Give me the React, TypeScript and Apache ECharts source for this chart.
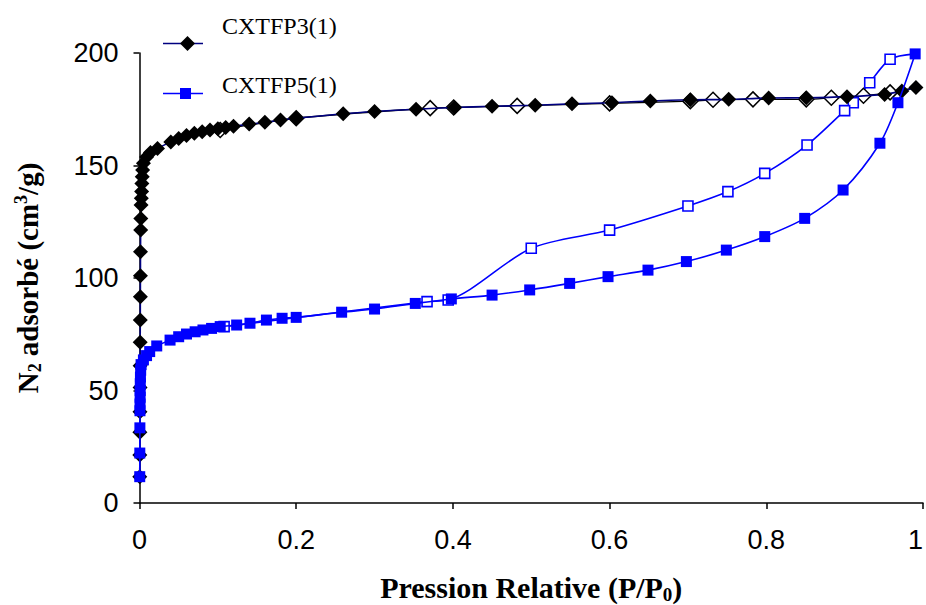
import React, { useEffect, useRef } from "react";
import * as echarts from "echarts";

// CXTFP3(1) adsorption (filled diamonds): [P/P0, volume]
const cx3Ads: number[][] = [
  [0.0003, 11.7], [0.0004, 21.3], [0.0005, 31.5], [0.0006, 40.6], [0.0007, 51.3], [0.0008, 61], [0.0009, 71.5],
  [0.001, 81.3], [0.0011, 91.7], [0.0012, 101], [0.0013, 111.7], [0.0015, 121.3], [0.0017, 126.5], [0.002, 132.4],
  [0.0023, 135.5], [0.0027, 138.4], [0.003, 142], [0.0035, 145], [0.004, 148], [0.005, 151], [0.009, 153.8],
  [0.014, 155.8], [0.023, 157.6], [0.04, 160.5], [0.05, 162], [0.06, 163.3], [0.07, 164.3], [0.08, 165],
  [0.09, 165.8], [0.1, 166.3], [0.11, 166.9], [0.12, 167.4], [0.14, 168.4], [0.16, 169.2], [0.18, 170.2],
  [0.2, 171], [0.26, 173], [0.3, 174], [0.353, 175], [0.402, 175.8], [0.45, 176.3], [0.505, 176.8],
  [0.552, 177.4], [0.603, 177.9], [0.652, 178.7], [0.703, 179.2], [0.752, 179.4], [0.803, 180], [0.851, 180.1],
  [0.903, 180.6], [0.951, 181.6], [0.973, 183.1], [0.991, 184.7],
];
// CXTFP3(1) desorption (open diamonds)
const cx3Des: number[][] = [
  [0.991, 184.7], [0.958, 182.5], [0.924, 181], [0.883, 180.1], [0.851, 179.4], [0.783, 179.4], [0.732, 179.2],
  [0.703, 178.6], [0.6, 177.6], [0.482, 176.5], [0.401, 175.8], [0.371, 175.5], [0.2, 171], [0.103, 165.8],
];
// CXTFP5(1) adsorption (filled squares)
const cx5Ads: number[][] = [
  [0.0003, 11.7], [0.0004, 22.2], [0.0005, 33.4], [0.0006, 41], [0.0007, 44], [0.0008, 47], [0.0009, 50],
  [0.001, 53], [0.0012, 56], [0.0015, 59], [0.002, 61.5], [0.005, 63.6], [0.009, 65.5], [0.013, 67.3],
  [0.022, 69.8], [0.039, 72.4], [0.05, 73.9], [0.06, 75.1], [0.071, 76.1], [0.081, 76.9], [0.092, 77.6],
  [0.103, 78.4], [0.124, 79.1], [0.141, 79.9], [0.162, 81.3], [0.182, 82.1], [0.2, 82.5], [0.258, 84.8],
  [0.3, 86.2], [0.352, 88.7], [0.398, 90.7], [0.45, 92.4], [0.498, 94.7], [0.549, 97.6], [0.598, 100.6],
  [0.649, 103.5], [0.698, 107.3], [0.749, 112.4], [0.798, 118.4], [0.849, 126.5], [0.898, 139.1],
  [0.945, 159.9], [0.968, 177.9], [0.99, 199.6],
];
// CXTFP5(1) desorption (open squares)
const cx5Des: number[][] = [
  [0.99, 199.6], [0.958, 197.2], [0.932, 186.8], [0.911, 177.9], [0.9, 174.4], [0.852, 159.1], [0.798, 146.5],
  [0.751, 138.4], [0.7, 132], [0.6, 121.3], [0.5, 113.2], [0.394, 90.2], [0.367, 89.5], [0.108, 78.4],
];

const legendNames = ["CXTFP3(1)", "CXTFP5(1)"];
const xTicks = { min: 0, max: 1, interval: 0.2 };
const yTicks = { min: 0, max: 200, interval: 50 };

const serif = '"Liberation Serif", "Times New Roman", serif';
const sans = '"Liberation Sans", Arial, sans-serif';

const makeRich = (size: number) => ({
  a: { fontFamily: serif, fontWeight: "bold", fontSize: size, lineHeight: size + 3, color: "#000", verticalAlign: "middle" },
  s: { fontFamily: serif, fontWeight: "bold", fontSize: Math.round(size * 0.63), lineHeight: 14, color: "#000", verticalAlign: "bottom" },
  p: { fontFamily: serif, fontWeight: "bold", fontSize: Math.round(size * 0.63), lineHeight: 21, color: "#000", verticalAlign: "top" },
});

export default function App() {
  const ref = useRef<HTMLDivElement>(null);
  useEffect(() => {
    if (!ref.current) return;
    const chart = echarts.init(ref.current, null, { renderer: "svg" });
    const firstOnly = (arr: number[][]) =>
      arr.map((d, i) => (i === 0 ? { value: d, symbol: "none" } : { value: d }));
    chart.setOption({
      animation: false,
      backgroundColor: "#fff",
      grid: { left: 139.5, right: 3, top: 53, bottom: 102, containLabel: false, outerBoundsMode: "none" },
      xAxis: {
        type: "value",
        ...xTicks,
        axisLine: { show: true, onZero: false, lineStyle: { color: "#000", width: 1.5 } },
        axisTick: { show: true, length: 6, inside: false, lineStyle: { color: "#000", width: 1.5 } },
        splitLine: { show: false },
        axisLabel: { color: "#000", fontFamily: sans, fontSize: 27, margin: 23, alignMaxLabel: "right" },
        name: "{a|Pression Relative (P/P}{s|0}{a|)}",
        nameLocation: "middle",
        nameGap: 68,
        nameTextStyle: { rich: makeRich(30) },
      },
      yAxis: {
        type: "value",
        ...yTicks,
        axisLine: { show: true, onZero: false, lineStyle: { color: "#000", width: 1.5 } },
        axisTick: { show: true, length: 6, inside: false, lineStyle: { color: "#000", width: 1.5 } },
        splitLine: { show: false },
        axisLabel: { color: "#000", fontFamily: sans, fontSize: 27, margin: 21 },
        name: "{a|N}{s|2}{a| adsorbé (cm}{p|3}{a|/g)}",
        nameLocation: "middle",
        nameRotate: 90,
        nameGap: 96,
        nameTextStyle: { rich: makeRich(29) },
      },
      graphic: [
        { type: "line", shape: { x1: 163, y1: 43.5, x2: 203, y2: 43.5 }, style: { stroke: "#000080", lineWidth: 1.5 } },
        { type: "polygon", shape: { points: [[187.5, 36], [195, 43.5], [187.5, 51], [180, 43.5]] }, style: { fill: "#000" } },
        { type: "text", x: 222, y: 26, style: { text: legendNames[0], font: `24px ${serif}`, fill: "#000", align: "left", verticalAlign: "middle", textAlign: "left", textVerticalAlign: "middle" } },
        { type: "line", shape: { x1: 163, y1: 93.5, x2: 203, y2: 93.5 }, style: { stroke: "#0000FF", lineWidth: 1.5 } },
        { type: "rect", shape: { x: 180, y: 88, width: 11, height: 11 }, style: { fill: "#0000FF" } },
        { type: "text", x: 222, y: 85, style: { text: legendNames[1], font: `24px ${serif}`, fill: "#000", align: "left", verticalAlign: "middle", textAlign: "left", textVerticalAlign: "middle" } },
      ],
      series: [
        {
          name: legendNames[0] + " desorption",
          type: "line",
          data: firstOnly(cx3Des),
          smooth: 0.3,
          symbol: "diamond",
          symbolSize: 15,
          lineStyle: { color: "#000", width: 1.4 },
          itemStyle: { color: "#fff", borderColor: "#000", borderWidth: 1.5 },
          z: 2,
        },
        {
          name: legendNames[1] + " desorption",
          type: "line",
          data: firstOnly(cx5Des),
          smooth: 0.3,
          symbol: "rect",
          symbolSize: 10,
          lineStyle: { color: "#0000FF", width: 1.6 },
          itemStyle: { color: "#fff", borderColor: "#0000FF", borderWidth: 1.6 },
          z: 2,
        },
        {
          name: legendNames[0],
          type: "line",
          data: cx3Ads,
          smooth: 0.3,
          symbol: "diamond",
          symbolSize: 15,
          lineStyle: { color: "#000080", width: 1.6 },
          itemStyle: { color: "#000", borderWidth: 0 },
          z: 3,
        },
        {
          name: legendNames[1],
          type: "line",
          data: cx5Ads,
          smooth: 0.3,
          symbol: "rect",
          symbolSize: 11,
          lineStyle: { color: "#0000FF", width: 1.6 },
          itemStyle: { color: "#0000FF", borderWidth: 0 },
          z: 4,
        },
      ],
    });
    return () => chart.dispose();
  }, []);
  return <div ref={ref} style={{ position: "fixed", left: 0, top: 0, width: 926, height: 605, background: "#fff" }} />;
}
